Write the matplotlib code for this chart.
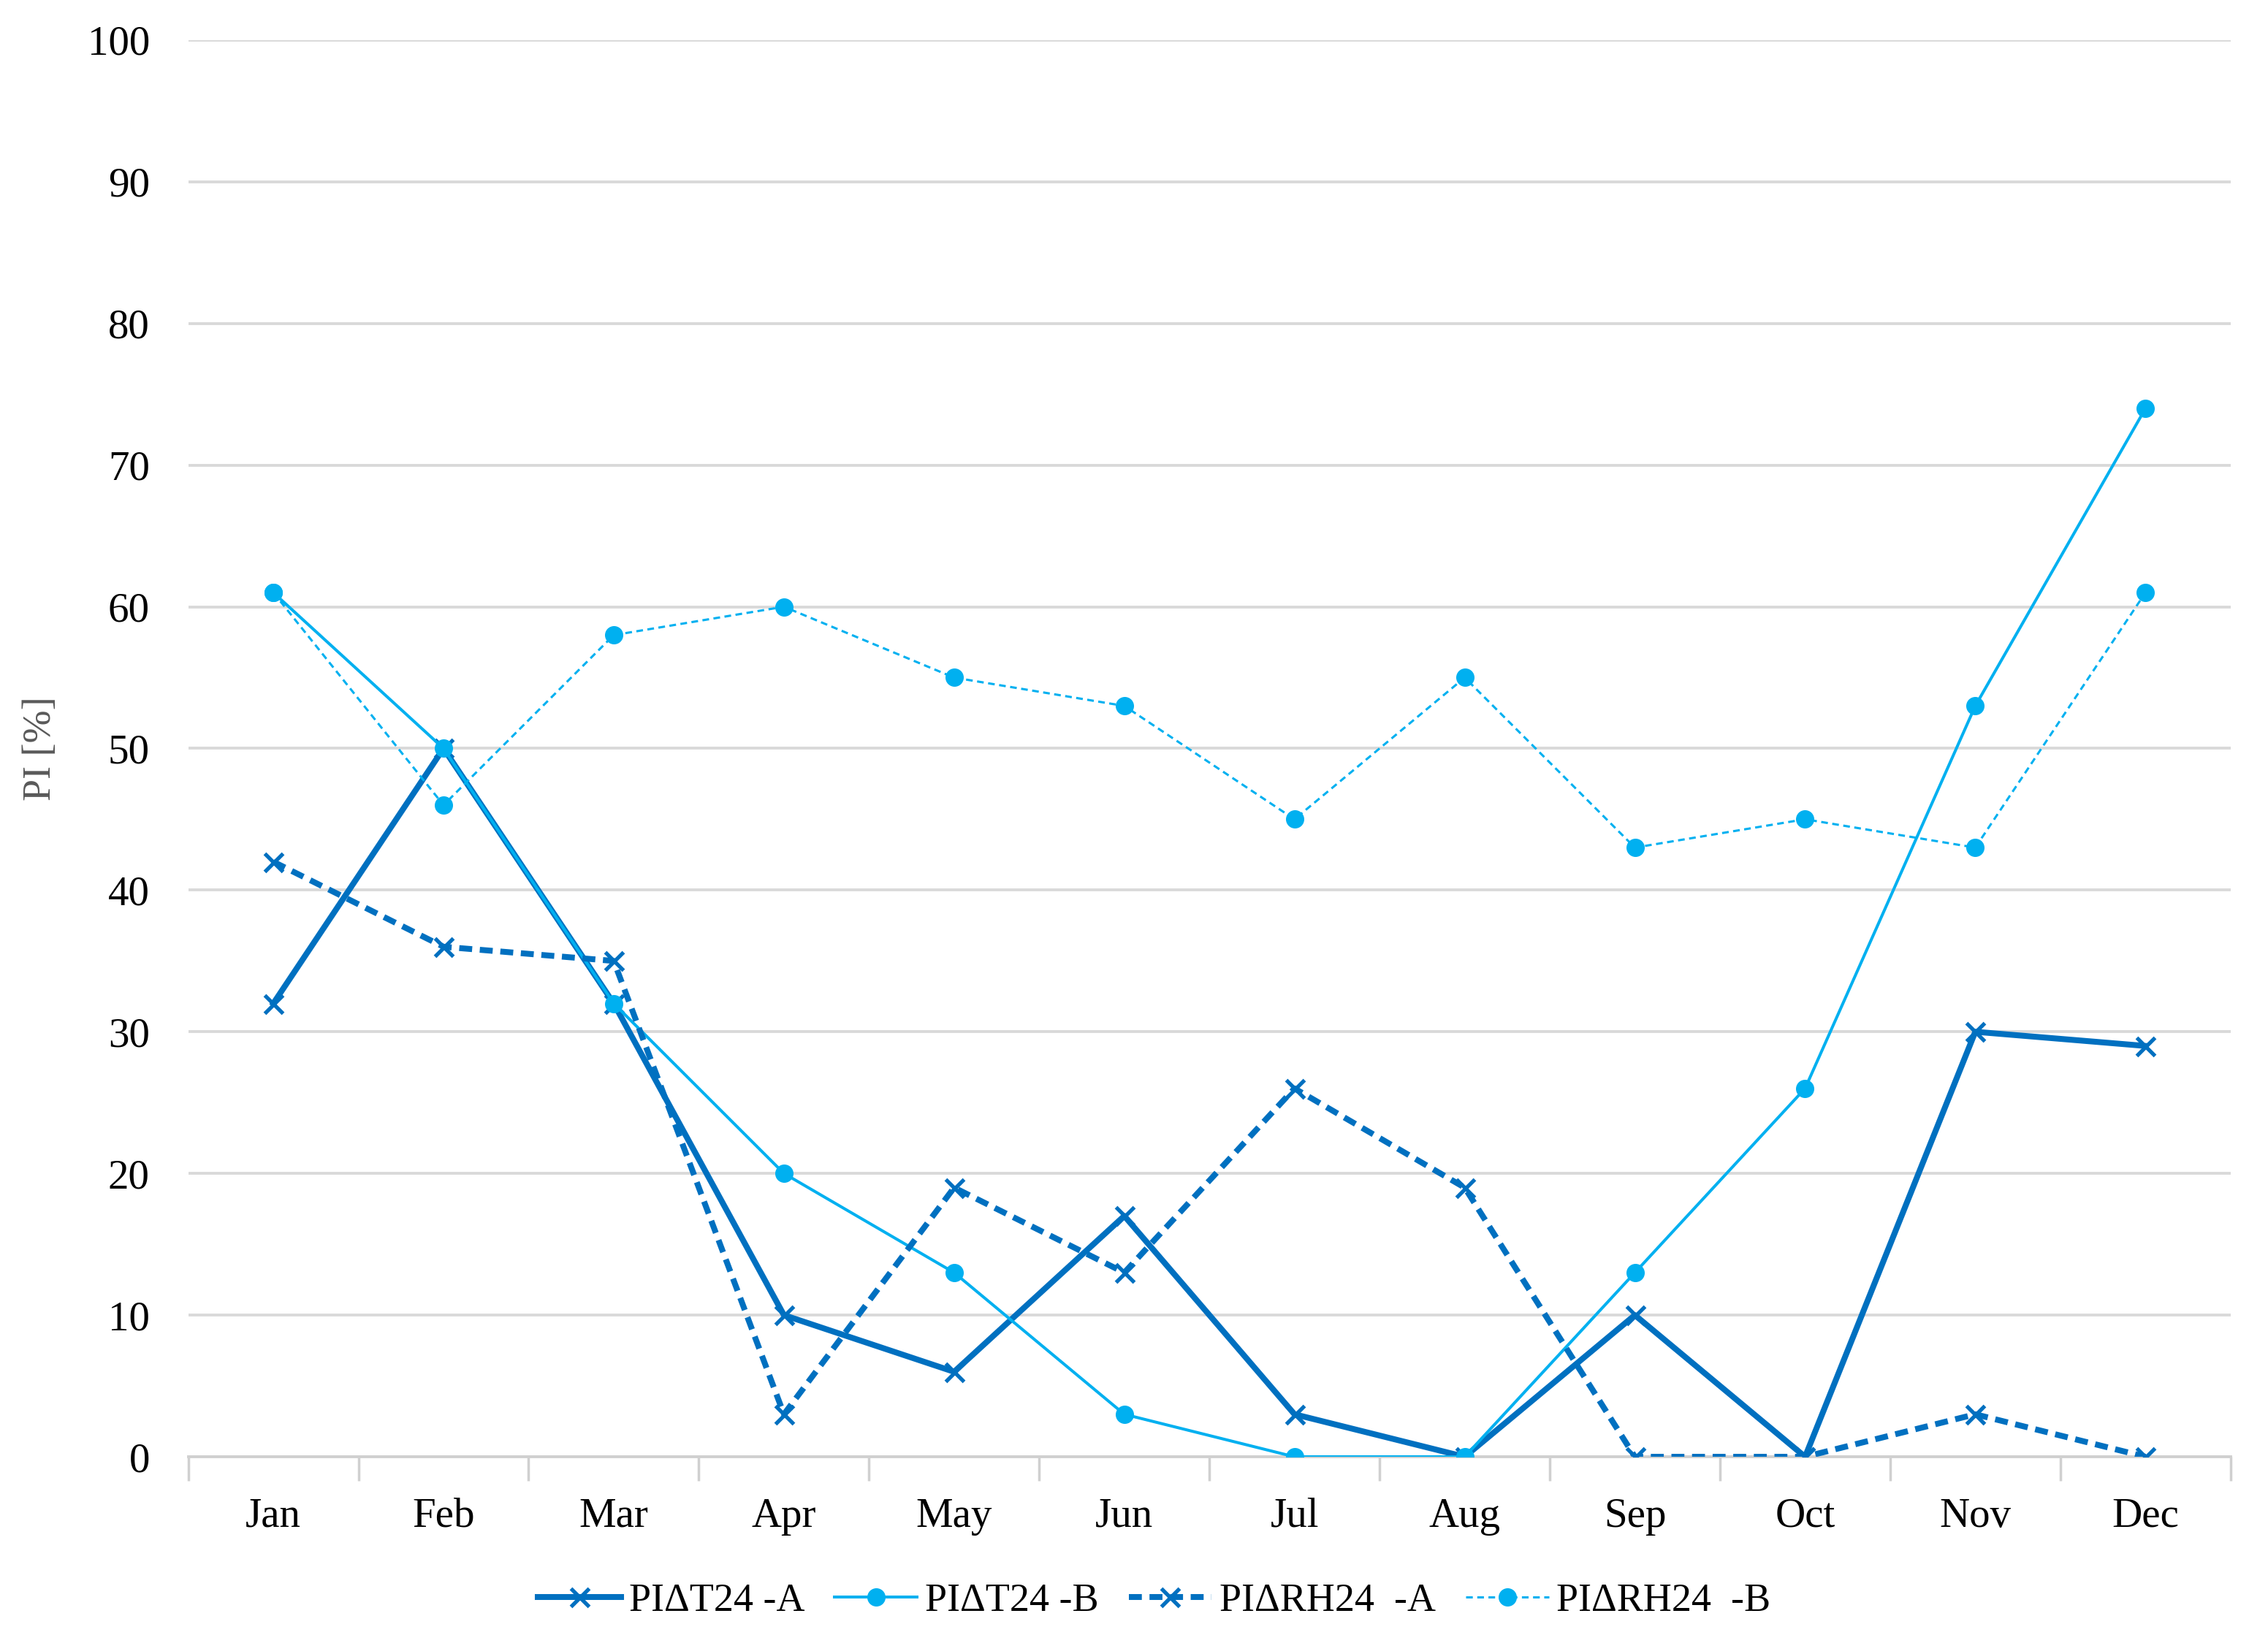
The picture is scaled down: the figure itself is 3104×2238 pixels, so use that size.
import matplotlib.pyplot as plt
import numpy as np

months = ['Jan', 'Feb', 'Mar', 'Apr', 'May', 'Jun', 'Jul', 'Aug', 'Sep', 'Oct', 'Nov', 'Dec']
pi_t24_a = [32, 50, 32, 10, 6, 17, 3, 0, 10, 0, 30, 29]
pi_t24_b = [61, 50, 32, 20, 13, 3, 0, 0, 13, 26, 53, 74]
pi_rh24_a = [42, 36, 35, 3, 19, 13, 26, 19, 0, 0, 3, 0]
pi_rh24_b = [61, 46, 58, 60, 55, 53, 45, 55, 43, 45, 43, 61]

dark = '#0070C0'
light = '#00B0F0'

plt.rcParams['font.family'] = ['Liberation Serif', 'DejaVu Serif']

fig = plt.figure(figsize=(31.04, 22.38), dpi=100)
ax = fig.add_axes([0.083, 0.109, 0.9005, 0.8665])
x = np.arange(len(months))

ax.plot(x, pi_t24_a, color=dark, lw=5.8, marker='x', ms=18, mew=3.8,
        label='PI\u0394T24 -A', zorder=3)
ax.plot(x, pi_t24_b, color=light, lw=2.9, marker='o', ms=17,
        label='PI\u0394T24 -B', zorder=3)
ax.plot(x, pi_rh24_a, color=dark, lw=5.8, ls=(0, (2.2, 1.3)), marker='x', ms=18, mew=3.8,
        label='PI\u0394RH24  -A', zorder=3)
ax.plot(x, pi_rh24_b, color=light, lw=2.2, ls=(0, (3, 2)), marker='o', ms=17,
        label='PI\u0394RH24  -B', zorder=3)

ax.set_xlim(-0.5, 11.5)
ax.set_ylim(0, 100)
ax.set_yticks(np.arange(0, 101, 10))
ax.set_xticks(x)
ax.set_xticklabels(months)
ax.set_xticks(np.arange(-0.5, 12, 1), minor=True)
ax.tick_params(axis='x', which='major', length=0, labelsize=41, pad=40)
ax.tick_params(axis='x', which='minor', length=24, width=2.5, color='#D0D0D0')
ax.tick_params(axis='y', length=0, labelsize=41, pad=38)
ax.grid(axis='y', color='#D9D9D9', lw=2.8, zorder=0)
for s in ['top', 'right', 'left']:
    ax.spines[s].set_visible(False)
ax.spines['bottom'].set_color('#D0D0D0')
ax.spines['bottom'].set_linewidth(2.8)
ax.set_ylabel('PI [%]', fontsize=39, color='#595959', labelpad=28)

ax.legend(loc='upper center', bbox_to_anchor=(0.473, -0.064), ncol=4, frameon=False,
          fontsize=39, handlelength=2.1, handletextpad=0.2, columnspacing=0.75)

fig.savefig('out.png', dpi=100)
